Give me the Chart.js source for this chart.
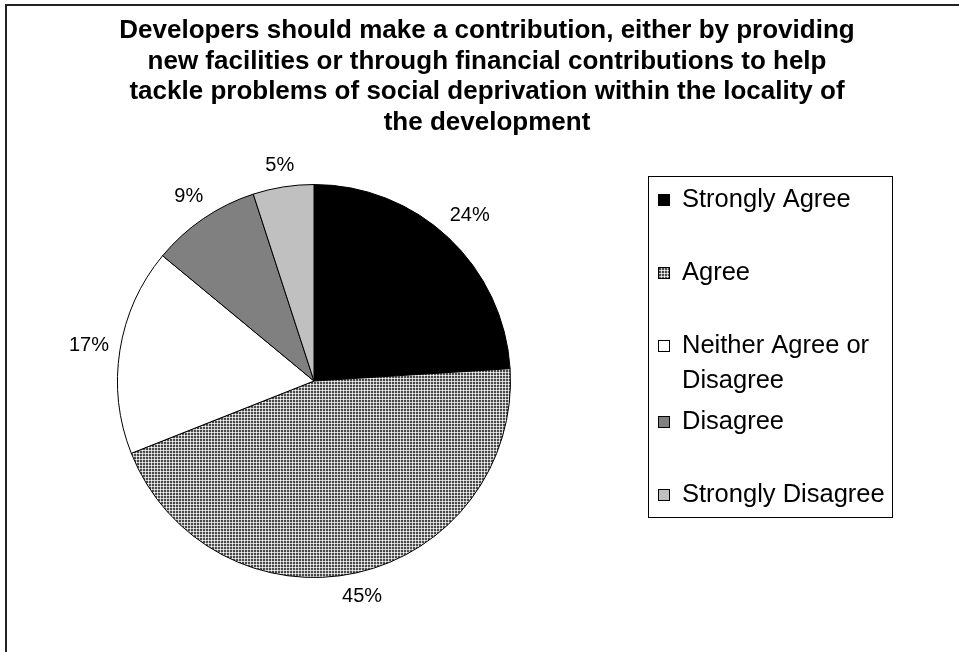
<!DOCTYPE html>
<html>
<head>
<meta charset="utf-8">
<script src="https://cdn.jsdelivr.net/npm/chart.js@4.4.0/dist/chart.umd.min.js"></script>
<style>
  html, body { margin: 0; padding: 0; background: #fff; overflow: hidden; }
  #marco {
    position: absolute; left: 5px; top: 4px;
    width: 960px; height: 660px;
    border: 2px solid #222;
  }
  #grafica { display: block; }
</style>
</head>
<body>
<div id="marco">
  <canvas id="grafica" width="960" height="646"></canvas>
</div>
<script>
// Datos del gráfico
const categorias = ['Strongly Agree', 'Agree', 'Neither Agree or Disagree', 'Disagree', 'Strongly Disagree'];
const etiquetasLeyenda = [['Strongly Agree'], ['Agree'], ['Neither Agree or', 'Disagree'], ['Disagree'], ['Strongly Disagree']];
const valores = [24, 45, 17, 9, 5];
const titulo = [
    'Developers should make a contribution, either by providing',
    'new facilities or through financial contributions to help',
    'tackle problems of social deprivation within the locality of',
    'the development'
];

const FUENTE = '"Liberation Sans", Arial, sans-serif';

// Trama gris cuadriculada para "Agree"
function crearTrama() {
    const c = document.createElement('canvas');
    c.width = 3; c.height = 3;
    const g = c.getContext('2d');
    g.fillStyle = '#4a4a4a';
    g.fillRect(0, 0, 3, 3);
    g.fillStyle = '#c8c8c8';
    g.fillRect(0, 0, 3, 1);
    g.fillRect(0, 0, 1, 3);
    g.fillStyle = '#ffffff';
    g.fillRect(0, 0, 1, 1);
    return document.getElementById('grafica').getContext('2d').createPattern(c, 'repeat');
}

const trama = crearTrama();
const colores = ['#000000', trama, '#ffffff', '#808080', '#c0c0c0'];

// Título centrado sobre todo el ancho (el título de Chart.js se estrecha con el padding)
const tituloAncho = {
    id: 'tituloAncho',
    afterDraw(chart) {
        const ctx = chart.ctx;
        ctx.save();
        ctx.font = 'bold 26px ' + FUENTE;
        ctx.fillStyle = '#000';
        ctx.textAlign = 'center';
        ctx.textBaseline = 'middle';
        titulo.forEach((t, i) => ctx.fillText(t, chart.width / 2, 25 + i * 30.5));
        ctx.restore();
    }
};

// Etiquetas de porcentaje fuera de cada sector
const etiquetasPorcentaje = {
    id: 'etiquetasPorcentaje',
    afterDatasetsDraw(chart) {
        const ctx = chart.ctx;
        const meta = chart.getDatasetMeta(0);
        ctx.save();
        ctx.font = '20px ' + FUENTE;
        ctx.fillStyle = '#000';
        ctx.textAlign = 'center';
        ctx.textBaseline = 'middle';
        meta.data.forEach((arc, i) => {
            const medio = (arc.startAngle + arc.endAngle) / 2;
            const cos = Math.cos(medio), sin = Math.sin(medio);
            const texto = valores[i] + '%';
            const hw = ctx.measureText(texto).width / 2;
            const hh = 10;
            const d = arc.outerRadius + 10 + Math.abs(cos) * hw + Math.abs(sin) * hh;
            ctx.fillText(texto, arc.x + cos * d, arc.y + sin * d);
        });
        ctx.restore();
    }
};

// Leyenda dibujada a mano (con etiquetas de dos líneas)
const leyendaCaja = {
    id: 'leyendaCaja',
    afterDraw(chart) {
        const ctx = chart.ctx;
        const x0 = 641, y0 = 170, x1 = 885, y1 = 511;
        const posY = [193, 266, 339, 415, 488];
        ctx.save();
        ctx.fillStyle = '#fff';
        ctx.fillRect(x0, y0, x1 - x0, y1 - y0);
        ctx.strokeStyle = '#000';
        ctx.lineWidth = 1;
        ctx.strokeRect(x0 + 0.5, y0 + 0.5, x1 - x0, y1 - y0);
        ctx.font = '25.5px ' + FUENTE;
        ctx.textBaseline = 'middle';
        ctx.textAlign = 'left';
        etiquetasLeyenda.forEach((lineas, i) => {
            const y = posY[i];
            ctx.fillStyle = colores[i];
            ctx.fillRect(651, y - 5, 12, 12);
            ctx.strokeStyle = '#000';
            ctx.strokeRect(651.5, y - 4.5, 11, 11);
            ctx.fillStyle = '#000';
            lineas.forEach((l, j) => ctx.fillText(l, 675, y + 1 + j * 35));
        });
        ctx.restore();
    }
};

new Chart(document.getElementById('grafica'), {
    type: 'pie',
    data: {
        labels: categorias,
        datasets: [{
            data: valores,
            backgroundColor: colores,
            borderColor: '#000',
            borderWidth: 1
        }]
    },
    options: {
        responsive: false,
        animation: false,
        layout: { padding: { left: 110, right: 456, top: 178, bottom: 74 } },
        plugins: {
            legend: { display: false },
            tooltip: { enabled: false },
            title: { display: false }
        }
    },
    plugins: [tituloAncho, etiquetasPorcentaje, leyendaCaja]
});
</script>
</body>
</html>
